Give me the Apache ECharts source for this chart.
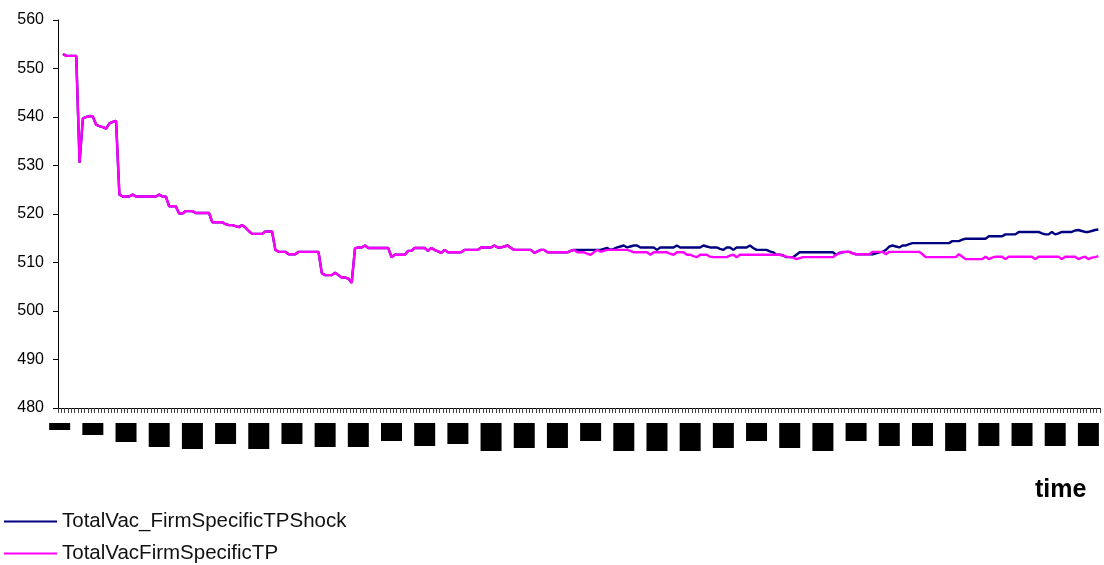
<!DOCTYPE html>
<html>
<head>
<meta charset="utf-8">
<script src="https://cdn.jsdelivr.net/npm/echarts@6/dist/echarts.min.js"></script>
<style>
  html, body { margin: 0; padding: 0; background: #fff; }
  #chart { width: 1104px; height: 565px; }
</style>
</head>
<body>
<div id="chart"></div>
<script>
// Period numbers on the time axis (one per step)
const periods = Array.from({ length: 314 }, (_, i) => String(i + 1));

// Y axis ticks
const yTicks = [480, 490, 500, 510, 520, 530, 540, 550, 560];

// Total vacancies, baseline run (no value recorded in the first period)
const totalVacFirmSpecificTP = [
  null, 553.0, 552.6, 552.6, 552.6, 552.6, 530.6, 539.7, 540.0, 540.2,
  540.1, 538.4, 538.1, 537.9, 537.6, 538.7, 539.0, 539.2, 524.0, 523.6,
  523.6, 523.6, 524.0, 523.6, 523.6, 523.6, 523.6, 523.6, 523.6, 523.6,
  524.0, 523.6, 523.6, 521.6, 521.6, 521.6, 520.1, 520.1, 520.6, 520.6,
  520.6, 520.2, 520.2, 520.2, 520.2, 520.2, 518.3, 518.3, 518.3, 518.3,
  517.9, 517.7, 517.7, 517.5, 517.3, 517.7, 517.2, 516.5, 515.9, 515.9,
  515.9, 515.9, 516.4, 516.4, 516.4, 512.6, 512.2, 512.2, 512.2, 511.7,
  511.7, 511.7, 512.2, 512.2, 512.2, 512.2, 512.2, 512.2, 512.2, 507.8,
  507.4, 507.4, 507.4, 507.9, 507.4, 506.9, 506.9, 506.7, 505.8, 512.9,
  513.1, 513.1, 513.5, 513.0, 513.0, 513.0, 513.0, 513.0, 513.0, 513.0,
  511.1, 511.6, 511.6, 511.6, 511.6, 512.4, 512.4, 513.0, 513.0, 513.0,
  513.0, 512.4, 513.0, 512.6, 512.3, 512.0, 512.6, 512.1, 512.1, 512.1,
  512.1, 512.1, 512.6, 512.6, 512.6, 512.6, 512.6, 513.1, 513.1, 513.1,
  513.1, 513.5, 513.1, 513.1, 513.3, 513.5, 513.0, 512.6, 512.6, 512.6,
  512.6, 512.6, 512.6, 512.0, 512.3, 512.6, 512.6, 512.1, 512.1, 512.1,
  512.1, 512.1, 512.1, 512.1, 512.4, 512.6, 512.1, 512.1, 512.1, 511.8,
  511.6, 512.1, 512.6, 512.2, 512.4, 512.6, 512.6, 512.6, 512.6, 512.6,
  512.6, 512.6, 512.4, 512.1, 512.1, 512.1, 512.1, 512.1, 511.6, 512.1,
  512.1, 512.1, 512.1, 512.1, 511.8, 511.6, 512.1, 512.1, 512.1, 511.6,
  511.6, 511.3, 511.1, 511.6, 511.6, 511.6, 511.2, 511.1, 511.1, 511.1,
  511.1, 511.1, 511.4, 511.6, 511.1, 511.6, 511.6, 511.6, 511.6, 511.6,
  511.6, 511.6, 511.6, 511.6, 511.6, 511.6, 511.6, 511.6, 511.4, 511.2,
  511.1, 511.0, 510.7, 510.9, 511.1, 511.1, 511.1, 511.1, 511.1, 511.1,
  511.1, 511.1, 511.1, 511.1, 511.6, 511.9, 512.2, 512.2, 512.2, 511.9,
  511.7, 511.7, 511.7, 511.7, 511.7, 512.2, 512.2, 512.2, 512.2, 511.7,
  512.2, 512.2, 512.2, 512.2, 512.2, 512.2, 512.2, 512.2, 512.2, 512.2,
  511.7, 511.1, 511.1, 511.1, 511.1, 511.1, 511.1, 511.1, 511.1, 511.1,
  511.1, 511.7, 511.2, 510.7, 510.7, 510.7, 510.7, 510.7, 510.7, 511.2,
  510.7, 511.0, 511.2, 511.2, 511.2, 510.7, 511.2, 511.2, 511.2, 511.2,
  511.2, 511.2, 511.2, 511.2, 510.7, 511.2, 511.2, 511.2, 511.2, 511.2,
  511.2, 511.2, 510.7, 511.2, 511.2, 511.2, 511.2, 510.7, 511.0, 511.2,
  510.7, 511.0, 511.1, 511.3
];

// Shock run: identical to the baseline up to period 156, then diverges
const shockFromIndex = 156;
const shockTail = [
  512.6, 512.6, 512.6, 512.6,
  512.6, 512.6, 512.6, 512.6, 512.8, 513.0, 512.6, 512.8, 513.1, 513.3,
  513.5, 513.1, 513.3, 513.5, 513.5, 513.1, 513.1, 513.1, 513.1, 513.1,
  512.6, 513.1, 513.1, 513.1, 513.1, 513.1, 513.5, 513.1, 513.1, 513.1,
  513.1, 513.1, 513.1, 513.1, 513.5, 513.3, 513.1, 513.1, 513.1, 512.8,
  512.6, 513.1, 513.1, 512.6, 513.1, 513.1, 513.1, 513.1, 513.5, 513.0,
  512.6, 512.6, 512.6, 512.6, 512.3, 512.1, 511.6, 511.6, 511.5, 511.1,
  511.1, 511.1, 511.6, 512.1, 512.1, 512.1, 512.1, 512.1, 512.1, 512.1,
  512.1, 512.1, 512.1, 512.1, 511.6, 512.0, 512.1, 512.2, 512.2, 511.9,
  511.7, 511.7, 511.7, 511.7, 511.7, 511.7, 511.9, 512.1, 512.2, 512.6,
  513.3, 513.5, 513.3, 513.1, 513.5, 513.5, 513.8, 514.0, 514.0, 514.0,
  514.0, 514.0, 514.0, 514.0, 514.0, 514.0, 514.0, 514.0, 514.0, 514.4,
  514.4, 514.4, 514.7, 514.9, 514.9, 514.9, 514.9, 514.9, 514.9, 514.9,
  515.4, 515.4, 515.4, 515.4, 515.4, 515.8, 515.8, 515.8, 515.8, 516.3,
  516.3, 516.3, 516.3, 516.3, 516.3, 516.3, 516.0, 515.8, 515.8, 516.3,
  515.8, 516.0, 516.3, 516.3, 516.3, 516.3, 516.6, 516.7, 516.5, 516.3,
  516.3, 516.5, 516.7, 516.8
];
const totalVacFirmSpecificTPShock =
  totalVacFirmSpecificTP.slice(0, shockFromIndex).concat(shockTail);

// Heights of the solid label blocks under every tenth period
const labelBlockHeights = [7, 12, 19, 24, 26, 21, 26, 21, 24, 24, 18, 23, 21, 28, 25, 25,
                           18, 28, 28, 28, 25, 18, 25, 28, 18, 23, 23, 28, 23, 23, 23, 23];

const FONT = '"Liberation Sans", Arial, Helvetica, sans-serif';

const rich = {};
labelBlockHeights.forEach((h, k) => {
  rich['b' + k] = {
    width: 21, height: h, backgroundColor: '#000', color: '#000',
    fontSize: 5, lineHeight: h, align: 'center', verticalAlign: 'top'
  };
});

const chart = echarts.init(document.getElementById('chart'), null, { renderer: 'canvas' });
chart.setOption({
  animation: false,
  backgroundColor: '#fff',
  grid: { left: 58, right: 4, top: 20, bottom: 157, containLabel: false },
  xAxis: {
    type: 'category',
    data: periods,
    boundaryGap: true,
    axisLine: { lineStyle: { color: '#000', width: 1 } },
    axisTick: { show: true, interval: 0, length: 5, lineStyle: { color: '#444', width: 1 } },
    axisLabel: {
      interval: 9,
      margin: 15,
      formatter: (val, idx) => '{b' + Math.round(idx / 10) + '|' + val + '}',
      rich: rich
    },
    splitLine: { show: false }
  },
  yAxis: {
    type: 'value',
    min: yTicks[0],
    max: yTicks[yTicks.length - 1],
    interval: 10,
    axisLine: { show: true, lineStyle: { color: '#000', width: 1 } },
    axisTick: { show: true, length: 5, lineStyle: { color: '#000' } },
    axisLabel: { color: '#000', fontSize: 16, fontFamily: FONT, margin: 14 },
    splitLine: { show: false }
  },
  legend: {
    orient: 'vertical',
    left: 4,
    top: 511,
    height: 60,
    padding: 0,
    itemWidth: 53,
    itemHeight: 2,
    itemGap: 11,
    icon: 'rect',
    textStyle: { color: '#111', fontSize: 20.5, fontFamily: FONT },
    data: ['TotalVac_FirmSpecificTPShock', 'TotalVacFirmSpecificTP']
  },
  graphic: [{
    type: 'text',
    left: 1035,
    top: 478,
    style: { text: 'time', fill: '#000', font: 'bold 25px ' + FONT }
  }],
  series: [
    {
      name: 'TotalVac_FirmSpecificTPShock',
      type: 'line',
      data: totalVacFirmSpecificTPShock,
      symbol: 'none',
      lineStyle: { color: '#000080', width: 2.4 },
      itemStyle: { color: '#000080' },
      z: 2
    },
    {
      name: 'TotalVacFirmSpecificTP',
      type: 'line',
      data: totalVacFirmSpecificTP,
      symbol: 'none',
      lineStyle: { color: '#FF00FF', width: 2.4 },
      itemStyle: { color: '#FF00FF' },
      z: 3
    }
  ]
});
</script>
</body>
</html>
